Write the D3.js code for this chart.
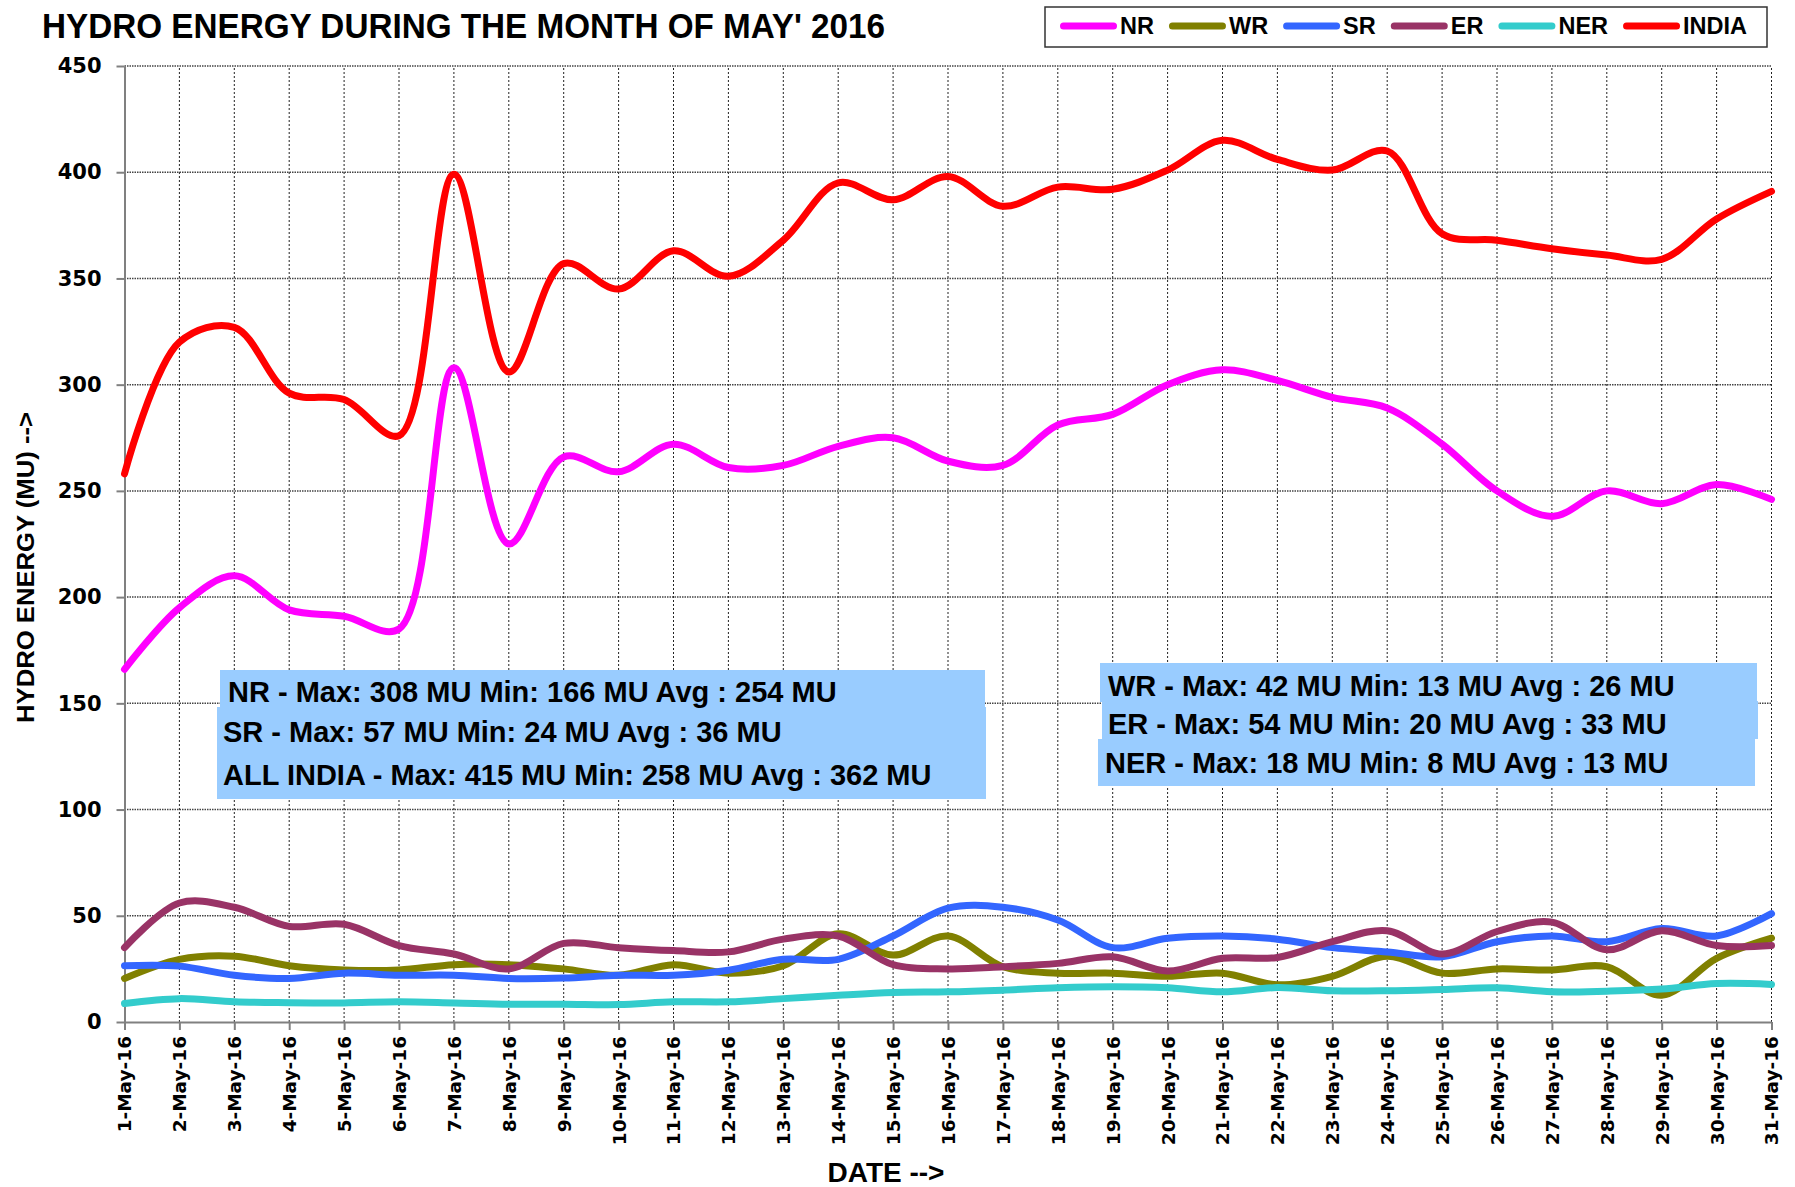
<!DOCTYPE html>
<html>
<head>
<meta charset="utf-8">
<title>Hydro energy - May 2016</title>
<script src="https://cdn.jsdelivr.net/npm/d3@7"></script>
<style>
  body { margin: 0; background: #fff; }
  svg { display: block; }
  text { font-family: "Liberation Sans", Arial, sans-serif; font-weight: bold; fill: #000; }
  .tick text { font-family: "DejaVu Sans", Verdana, sans-serif; font-weight: bold; }
</style>
</head>
<body>
<div id="chart"></div>
<script>
/* categories : les jours du mois */
const days = d3.range(1, 32);
const day_labels = days.map(d => d + "-May-16");
const y_ticks = [0, 50, 100, 150, 200, 250, 300, 350, 400, 450];

/* valeurs (MU) */
const nr = [166, 195, 210, 194, 191, 185, 308, 225, 266, 259, 272, 261, 262, 271, 275, 264,
            262, 281, 286, 300, 307, 302, 294, 289, 272, 250, 238, 250, 244, 253, 246];
const wr = [20.5, 29.5, 31, 26.5, 24.5, 24.5, 27, 27, 25, 22, 27, 23, 26.5, 41.5, 31.5, 40.5,
            26, 23, 23, 21.5, 23, 17.5, 21.5, 31, 23, 25, 24.5, 26, 12.6, 30, 39.5];
const sr = [26.5, 26.3, 22, 20.5, 23, 22, 22, 20.5, 20.7, 22, 22, 24.4, 29.5, 29.5, 40.5, 53.6,
            54, 48, 35, 39.4, 40.5, 39, 35, 33, 30.7, 37.8, 40.5, 37.8, 44, 40.5, 51];
const er = [35, 56, 54, 45, 46, 36, 32, 25, 37, 35, 33.6, 33, 39, 40.5, 27, 25,
            26, 27.6, 30.7, 24, 30, 30.4, 37.8, 43, 32, 42.6, 47, 34, 43, 36, 36];
const ner = [8.7, 11, 9.5, 9.1, 9, 9.5, 9, 8.4, 8.4, 8.2, 9.5, 9.5, 11, 12.6, 13.9, 14.2,
             15, 16.1, 16.6, 16.1, 14.2, 16.2, 14.7, 14.7, 15.3, 16.1, 14.2, 14.5, 15.5, 18.1, 17.7];
const india = [258, 320, 327, 296, 293, 276, 399, 306, 357, 345, 363, 351, 368, 395, 387, 398,
               384, 393, 392, 401, 415, 406, 401, 410, 371, 368, 364, 361, 359, 378, 391];

const series_names = ["NR", "WR", "SR", "ER", "NER", "INDIA"];
const series_values = [nr, wr, sr, er, ner, india];
const series_colors = ["#FF00FF", "#808000", "#3366FF", "#993366", "#33CCCC", "#FF0000"];

/* textes des encadrés */
const notes_left = ["NR - Max: 308 MU Min: 166 MU Avg : 254 MU",
                    "SR - Max: 57 MU Min: 24 MU Avg : 36 MU",
                    "ALL INDIA - Max: 415 MU Min: 258 MU Avg : 362 MU"];
const notes_right = ["WR - Max: 42 MU Min: 13 MU Avg : 26 MU",
                     "ER - Max: 54 MU Min: 20 MU Avg : 33 MU",
                     "NER - Max: 18 MU Min: 8 MU Avg : 13 MU"];

const width = 1795;
const height = 1187;
const margin = {top: 66, right: 23.5, bottom: 165, left: 124.5};

const x = d3.scaleLinear().domain([1, 31]).range([margin.left, width - margin.right]);
const y = d3.scaleLinear().domain([0, 450]).range([height - margin.bottom, margin.top]);

const svg = d3.select("#chart").append("svg")
    .attr("width", width)
    .attr("height", height)
    .attr("viewBox", [0, 0, width, height]);

/* grille en pointillés */
svg.append("g")
  .selectAll("line")
  .data(days)
  .join("line")
    .attr("x1", d => x(d)).attr("x2", d => x(d))
    .attr("y1", y(0)).attr("y2", y(450))
    .attr("stroke", "#222")
    .attr("stroke-width", 1)
    .attr("stroke-dasharray", "2,2");

svg.append("g")
  .selectAll("line")
  .data(y_ticks.filter(d => d > 0))
  .join("line")
    .attr("x1", x(1)).attr("x2", x(31))
    .attr("y1", d => y(d)).attr("y2", d => y(d))
    .attr("stroke", "#444")
    .attr("stroke-width", 1.5)
    .attr("stroke-dasharray", "1.5,1");

/* axes */
const y_axis = svg.append("g")
    .attr("transform", `translate(${margin.left},0)`)
    .call(d3.axisLeft(y).tickValues(y_ticks).tickSize(8).tickSizeOuter(0).tickPadding(15));
y_axis.selectAll("text").attr("font-size", 21);

const x_axis = svg.append("g")
    .attr("transform", `translate(0,${y(0)})`)
    .call(d3.axisBottom(x).tickValues(days).tickFormat(d => day_labels[d - 1])
      .tickSize(8).tickSizeOuter(0));
x_axis.selectAll("text")
    .attr("font-size", 18.5)
    .attr("transform", "rotate(-90)")
    .attr("text-anchor", "end")
    .attr("x", -14)
    .attr("y", 0)
    .attr("dy", "0.35em");

svg.selectAll(".domain, .tick line")
    .attr("stroke", "#808080")
    .attr("stroke-width", 2);

/* courbes lissées (catmull-rom centripète, proche du lissage d'Excel) */
const line = d3.line()
    .x((d, i) => x(days[i]))
    .y(d => y(d))
    .curve(d3.curveCatmullRom.alpha(0.5));

svg.append("g")
  .selectAll("path")
  .data(series_values)
  .join("path")
    .attr("d", line)
    .attr("fill", "none")
    .attr("stroke", (d, i) => series_colors[i])
    .attr("stroke-width", 7)
    .attr("stroke-linejoin", "round")
    .attr("stroke-linecap", "round");

/* encadrés bleus */
const box_fill = "#99CCFF";
const boxes = [
  [220, 670, 765, 38], [217, 707, 769, 92],
  [1100, 663, 657, 39], [1102, 701, 656, 38], [1098, 739, 657, 47]
];
svg.append("g")
  .selectAll("rect")
  .data(boxes)
  .join("rect")
    .attr("x", d => d[0]).attr("y", d => d[1])
    .attr("width", d => d[2]).attr("height", d => d[3])
    .attr("fill", box_fill);

const note_pos_left = [[228, 702], [223, 742], [223, 785]];
const note_pos_right = [[1108, 696], [1108, 734], [1105, 773]];
svg.append("g")
  .selectAll("text")
  .data(notes_left.map((t, i) => [t, note_pos_left[i]]).concat(
        notes_right.map((t, i) => [t, note_pos_right[i]])))
  .join("text")
    .attr("x", d => d[1][0])
    .attr("y", d => d[1][1])
    .attr("font-size", 29)
    .text(d => d[0]);

/* titres */
svg.append("text")
    .attr("x", 42)
    .attr("y", 38)
    .attr("font-size", 35)
    .attr("textLength", 843)
    .attr("lengthAdjust", "spacingAndGlyphs")
    .text("HYDRO ENERGY DURING THE MONTH OF MAY' 2016");

svg.append("text")
    .attr("x", 886)
    .attr("y", 1182)
    .attr("text-anchor", "middle")
    .attr("font-size", 28)
    .text("DATE -->");

svg.append("text")
    .attr("transform", `translate(33.5,723) rotate(-90)`)
    .attr("font-size", 23.5)
    .attr("textLength", 311)
    .attr("lengthAdjust", "spacingAndGlyphs")
    .text("HYDRO ENERGY (MU) -->");

/* légende */
const legend = svg.append("g");
legend.append("rect")
    .attr("x", 1045).attr("y", 7)
    .attr("width", 722).attr("height", 40)
    .attr("fill", "#fff")
    .attr("stroke", "#333")
    .attr("stroke-width", 1.5);

let cursor = 1060;
series_names.forEach((name, i) => {
  legend.append("line")
      .attr("x1", cursor + 3.5).attr("x2", cursor + 53.5)
      .attr("y1", 26).attr("y2", 26)
      .attr("stroke", series_colors[i])
      .attr("stroke-width", 7)
      .attr("stroke-linecap", "round");
  const label = legend.append("text")
      .attr("x", cursor + 60)
      .attr("y", 34)
      .attr("font-size", 23.5)
      .text(name);
  cursor += 60 + label.node().getComputedTextLength() + 15;
});
</script>
</body>
</html>
